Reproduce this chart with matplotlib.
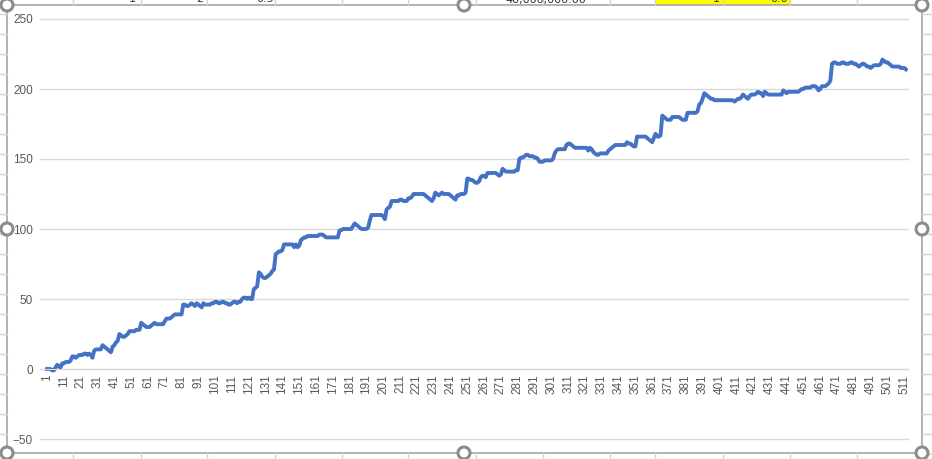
import numpy as np
import matplotlib.pyplot as plt
from matplotlib.patches import Rectangle, Circle

# значения ряда, индексы 1..512
values = [
    0, 0, 0, -1, -1, 1, 3, 2, 1, 4,
    4, 5, 5, 5, 6, 9, 9, 8, 9, 10,
    10, 10, 11, 11, 10, 11, 10, 8, 13, 14,
    14, 14, 14, 17, 16, 15, 14, 13, 12, 16,
    17, 19, 20, 25, 24, 23, 23, 24, 25, 27,
    27, 27, 27, 28, 28, 28, 33, 32, 31, 30,
    30, 30, 31, 32, 33, 32, 32, 32, 32, 32,
    34, 36, 36, 36, 37, 38, 39, 39, 39, 39,
    39, 46, 46, 45, 45, 46, 47, 46, 45, 47,
    46, 45, 44, 47, 46, 46, 46, 46, 47, 47,
    48, 48, 47, 47, 48, 48, 47, 47, 46, 46,
    47, 48, 48, 47, 48, 48, 50, 51, 51, 50,
    51, 50, 50, 57, 58, 59, 69, 68, 66, 65,
    65, 66, 67, 68, 70, 71, 82, 83, 84, 84,
    85, 89, 89, 89, 89, 89, 89, 87, 89, 87,
    88, 92, 93, 94, 94, 95, 95, 95, 95, 95,
    95, 95, 96, 96, 96, 95, 94, 94, 94, 94,
    94, 94, 94, 94, 99, 99, 100, 100, 100, 100,
    100, 100, 102, 104, 103, 102, 101, 100, 100, 100,
    100, 101, 106, 110, 110, 110, 110, 110, 110, 110,
    109, 107, 114, 115, 116, 120, 120, 120, 120, 120,
    121, 121, 120, 120, 120, 122, 122, 123, 125, 125,
    125, 125, 125, 125, 125, 124, 123, 122, 121, 120,
    122, 126, 125, 124, 125, 126, 125, 125, 125, 125,
    124, 123, 122, 121, 124, 124, 125, 125, 125, 126,
    136, 136, 135, 135, 134, 133, 133, 134, 137, 138,
    138, 137, 140, 140, 140, 140, 140, 140, 139, 138,
    139, 143, 142, 141, 141, 141, 141, 141, 141, 142,
    142, 150, 151, 151, 152, 153, 153, 152, 152, 152,
    151, 151, 150, 148, 148, 148, 149, 149, 149, 149,
    149, 150, 154, 156, 157, 157, 157, 157, 157, 160,
    161, 161, 160, 159, 158, 158, 158, 158, 158, 158,
    158, 158, 156, 158, 157, 155, 154, 153, 153, 154,
    154, 154, 154, 154, 156, 157, 158, 159, 160, 160,
    160, 160, 160, 160, 160, 162, 161, 161, 160, 159,
    159, 166, 166, 166, 166, 166, 166, 165, 164, 163,
    162, 165, 168, 166, 166, 167, 181, 180, 179, 178,
    178, 178, 180, 180, 180, 180, 180, 179, 178, 178,
    178, 183, 183, 183, 183, 183, 183, 184, 189, 190,
    193, 197, 196, 195, 194, 193, 193, 192, 192, 192,
    192, 192, 192, 192, 192, 192, 192, 192, 192, 191,
    192, 193, 193, 194, 196, 195, 194, 193, 195, 196,
    196, 196, 197, 198, 197, 197, 195, 198, 197, 196,
    196, 196, 196, 196, 196, 196, 196, 196, 199, 198,
    197, 198, 198, 198, 198, 198, 198, 198, 199, 200,
    200, 201, 201, 201, 201, 202, 202, 202, 201, 199,
    200, 202, 202, 202, 203, 204, 206, 218, 219, 219,
    218, 218, 218, 219, 219, 218, 218, 218, 219, 219,
    218, 218, 217, 216, 217, 218, 218, 217, 216, 216,
    215, 216, 217, 217, 217, 217, 218, 221, 220, 219,
    219, 218, 217, 216, 216, 216, 216, 216, 215, 215,
    215, 214,
]
x_ticks = list(range(1, 512, 10))
y_ticks = [-50, 0, 50, 100, 150, 200, 250]

# фон листа Excel (ячейки, рамка диаграммы)
col_lines = [73, 141, 207, 275, 342, 408, 476, 543, 610, 655, 723, 790, 857]
top_texts = [(136, '1'), (203, '2'), (274, '0.5'), (586, '40,000,000.00'), (720, '1'), (788, '0.0')]

W, H = 932, 459
fig = plt.figure(figsize=(W / 100, H / 100), dpi=100)

bg = fig.add_axes([0, 0, 1, 1])
bg.set_xlim(0, W)
bg.set_ylim(H, 0)
bg.axis('off')

grid_c = '#D4D4D4'
for yy in range(14, H, 20):
    bg.plot([0, 7], [yy, yy], color=grid_c, lw=1)
    bg.plot([922, W], [yy, yy], color=grid_c, lw=1)
for xx in col_lines:
    bg.plot([xx, xx], [0, 5], color=grid_c, lw=1)
    bg.plot([xx, xx], [453, H], color=grid_c, lw=1)
bg.add_patch(Rectangle((655, -2), 135, 7, fc='#FFFF00', ec='none'))
# верхняя строка листа видна только краешком
for tx, t in top_texts:
    bg.text(tx, 2.5, t, ha='right', va='baseline', fontsize=8, color='#333333')

bg.add_patch(Rectangle((7, 5), 915, 448, fc='white', ec='#A6A6A6', lw=1.2))
for hx, hy in [(7, 5), (464, 5), (922, 5), (7, 229), (922, 229), (7, 453), (464, 453), (922, 453)]:
    bg.add_patch(Circle((hx, hy), 6, fc='white', ec='#8C8C8C', lw=2.2, zorder=5))

# сама диаграмма
ax = fig.add_axes([40 / W, 20 / H, 868 / W, 420 / H])
x = np.arange(1, len(values) + 1)
ax.plot(x, values, color='#4472C4', lw=2.8, solid_joinstyle='round')

ax.set_xlim(-3.2, 513.2)
ax.set_ylim(-50, 250)
ax.set_yticks(y_ticks)
ax.set_xticks(x_ticks)
ax.grid(axis='y', color='#D9D9D9', lw=1)
for gl in ax.get_ygridlines():
    gl.set_clip_on(False)
ax.set_axisbelow(True)
for s in ['top', 'right', 'left']:
    ax.spines[s].set_visible(False)
ax.spines['bottom'].set_position(('data', 0))
ax.spines['bottom'].set_color('#D9D9D9')
ax.tick_params(length=0, colors='#595959', labelsize=8.5)
ax.tick_params(axis='x', pad=4, labelrotation=90)
ax.tick_params(axis='y', pad=5)
for lbl in ax.get_xticklabels() + ax.get_yticklabels():
    lbl.set_fontfamily('Liberation Sans')

plt.savefig('out.png', dpi=100)
